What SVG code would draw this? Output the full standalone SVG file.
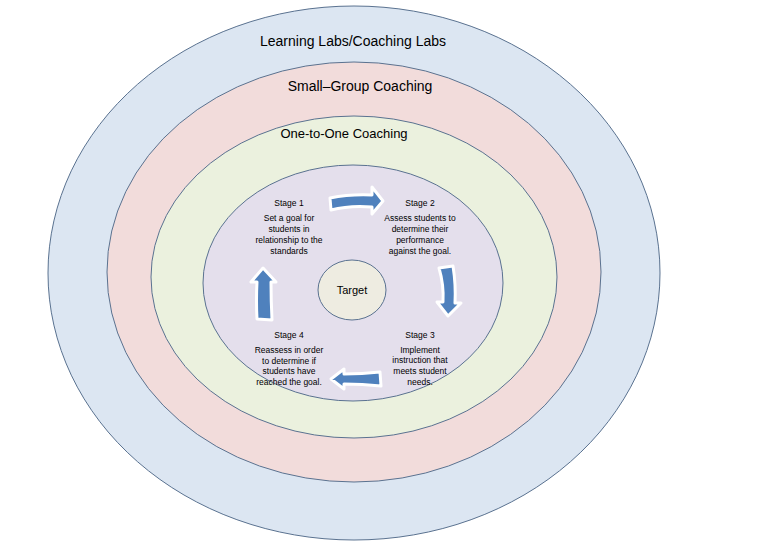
<svg xmlns="http://www.w3.org/2000/svg" width="770" height="547" viewBox="0 0 770 547">
<style>
.e{stroke:#5a7290;stroke-width:1}
.t{font-family:"Liberation Sans",Arial,sans-serif;fill:#000}
.s{font-family:"Liberation Sans",Arial,sans-serif;font-size:8.5px;text-anchor:middle;fill:#000}
.a{fill:#4f81bd;stroke:#fff;stroke-width:3;stroke-linejoin:round}
</style>
<rect width="770" height="547" fill="#fff"/>
<g id="ring1"><ellipse class="e" cx="354" cy="273" rx="306" ry="267" fill="#dce6f2"/><text class="t" x="353" y="46" font-size="14" text-anchor="middle">Learning Labs/Coaching Labs</text></g>
<g id="ring2"><ellipse class="e" cx="354" cy="272" rx="247" ry="210" fill="#f2dcdb"/><text class="t" x="360" y="91" font-size="14" text-anchor="middle">Small–Group Coaching</text></g>
<g id="ring3"><ellipse class="e" cx="354" cy="277" rx="203" ry="161" fill="#ebf1de"/><text class="t" x="344" y="138" font-size="13" text-anchor="middle">One-to-One Coaching</text></g>
<g id="ring4"><ellipse class="e" cx="353" cy="283" rx="150" ry="118" fill="#e4dfec"/></g>
<g id="target"><ellipse class="e" cx="352" cy="290" rx="34" ry="30" fill="#eeece1"/><text class="t" x="352" y="294" font-size="11" text-anchor="middle">Target</text></g>
<g id="stage1"><text class="s" x="289" y="206">Stage 1</text><text class="s" x="289" y="221">Set a goal for</text><text class="s" x="289" y="232">students in</text><text class="s" x="289" y="243">relationship to the</text><text class="s" x="289" y="254">standards</text></g>
<g id="stage2"><text class="s" x="420" y="206">Stage 2</text><text class="s" x="420" y="221">Assess students to</text><text class="s" x="420" y="232">determine their</text><text class="s" x="420" y="243">performance</text><text class="s" x="420" y="254">against the goal.</text></g>
<g id="stage3"><text class="s" x="420" y="338">Stage 3</text><text class="s" x="420" y="353">Implement</text><text class="s" x="420" y="363">instruction that</text><text class="s" x="420" y="374">meets student</text><text class="s" x="420" y="385">needs.</text></g>
<g id="stage4"><text class="s" x="289" y="338">Stage 4</text><text class="s" x="289" y="353">Reassess in order</text><text class="s" x="289" y="364">to determine if</text><text class="s" x="289" y="374">students have</text><text class="s" x="289" y="385">reached the goal.</text></g>
<g id="connectors">
<path class="a" d="M330,198 Q350,194 372,195 L372,187 L383,201 L372,214 L372,207 Q350,205 331,210 Z"/>
<path class="a" d="M439,268 L453,266 Q456,285 455,303 L461,303 L448,316 L437,302 L443,302 Q444,285 439,268 Z"/>
<path class="a" d="M380,372 L381,386 Q362,384 344,384 L344,389 L331,379 L344,369 L344,374 Q362,374 380,372 Z"/>
<path class="a" d="M257,319 L272,320 Q271,300 271,282 L276,282 L263,268 L251,282 L257,282 Q256,300 257,319 Z"/>
</g>
</svg>
